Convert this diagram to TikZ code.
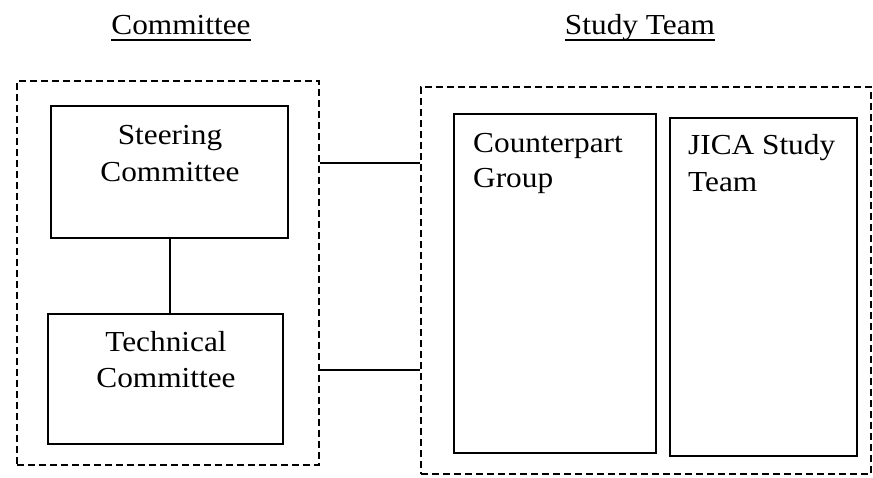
\documentclass[tikz,border=0pt]{standalone}
\usepackage{fontspec}
\setmainfont{Liberation Serif}[FakeStretch=1.08]
\begin{document}
\begin{tikzpicture}[x=1pt,y=-1pt,
  box/.style={draw,line width=2.2pt,rectangle,inner sep=0pt},
  group/.style={draw,line width=1.7pt,dash pattern=on 7pt off 4pt,rectangle,inner sep=0pt},
  txt/.style={font=\fontsize{29}{36}\selectfont,inner sep=0pt},
  uline/.style={line width=1.5pt},
  link/.style={line width=1.8pt}]
\useasboundingbox (0,0) rectangle (873,478);
% titles
\node[txt,anchor=base] (t1) at (181,35) {Committee};
\node[txt,anchor=base] (t2) at (640,35) {Study Team};
\draw[uline] ([yshift=-5pt]t1.base west) -- ([yshift=-5pt]t1.base east);
\draw[uline] ([yshift=-5pt]t2.base west) -- ([yshift=-5pt]t2.base east);
% dashed groups
\node[group,minimum width=302pt,minimum height=384pt,anchor=north west] (lbox) at (16,80) {};
\node[group,minimum width=450pt,minimum height=387pt,anchor=north west] (rbox) at (420,86) {};
% boxes
\node[box,minimum width=237pt,minimum height=132pt,anchor=north west] (sc) at (50,105) {};
\node[box,minimum width=235pt,minimum height=130pt,anchor=north west] (tc) at (47,313) {};
\node[box,minimum width=202pt,minimum height=339pt,anchor=north west] (cg) at (453,113) {};
\node[box,minimum width=187pt,minimum height=338pt,anchor=north west] (jt) at (669,117) {};
% texts
\node[txt,anchor=base] (sc1) at (170,145) {Steering};
\node[txt,anchor=base] (sc2) at (170,182) {Committee};
\node[txt,anchor=base] (tc1) at (166,352) {Technical};
\node[txt,anchor=base] (tc2) at (166,388) {Committee};
\node[txt,anchor=base west] (cg1) at (473,153) {Counterpart};
\node[txt,anchor=base west] (cg2) at (473,188) {Group};
\node[txt,anchor=base west] (jt1) at (688,155) {JICA Study};
\node[txt,anchor=base west] (jt2) at (688,192) {Team};
% connectors
\coordinate (y1) at (0,163);
\coordinate (y2) at (0,370);
\draw[link] (sc.south) -- (sc.south |- tc.north);
\draw[link] (lbox.east |- y1) -- (rbox.west |- y1);
\draw[link] (lbox.east |- y2) -- (rbox.west |- y2);
\end{tikzpicture}
\end{document}
